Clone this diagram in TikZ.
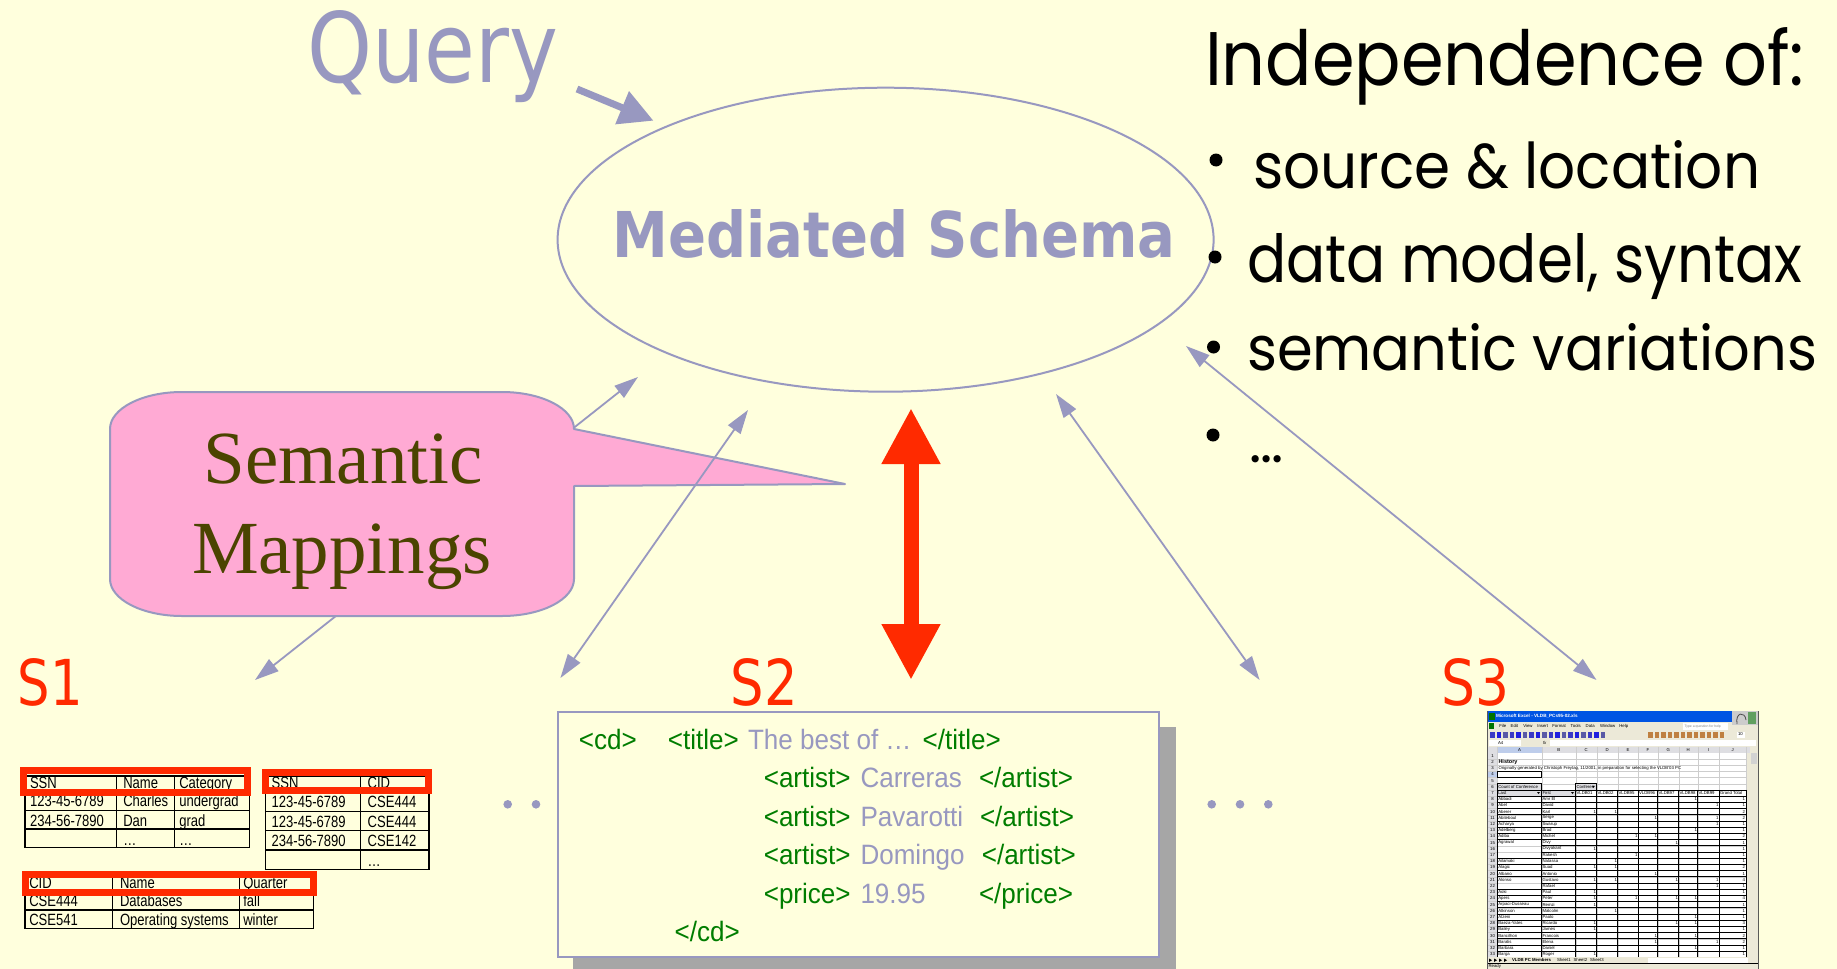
\documentclass[tikz,border=0pt]{standalone}
\usepackage{graphicx}
\usepackage{fontspec}
\usetikzlibrary{arrows.meta,shapes.geometric}

\newfontfamily\tahomaf{DejaVu Sans}
\newfontfamily\arialf{Liberation Sans}
\newfontfamily\timesf{Liberation Serif}
\newfontfamily\comicf{Poppins}

\definecolor{bgyellow}{RGB}{255,255,221}
\definecolor{lav}{RGB}{152,152,192}
\definecolor{calloutpink}{RGB}{255,170,212}
\definecolor{olive}{RGB}{75,68,0}
\definecolor{hotred}{RGB}{255,42,0}
\definecolor{taggreen}{RGB}{0,125,0}
\definecolor{shadowgray}{RGB}{166,166,166}
\definecolor{xpblue}{RGB}{0,84,227}
\definecolor{xpface}{RGB}{236,233,216}
\definecolor{xlhead}{RGB}{222,222,226}
\definecolor{xlgrid}{RGB}{205,205,205}
\definecolor{xlsel}{RGB}{190,205,235}

% box of a given width and height (in pt) around a piece of text
\newcommand\fitto[3]{\resizebox{#1pt}{#2pt}{#3}}
\newcommand\xmlnarrow[1]{\scalebox{0.93}[1]{#1}}
\newcommand\tabnarrow[1]{\scalebox{0.8}[1]{#1}}

\begin{document}
\begin{tikzpicture}[x=1pt,y=-1pt,
  every node/.style={inner sep=0pt,outer sep=0pt},
  link/.style={draw=lav,line width=1.8pt,>={Triangle[length=24pt,width=15pt]},<->},
  bigtext/.style={anchor=base west},
  bulletdot/.style={fill=black},
  tabtext/.style={font=\arialf\fontsize{16.3}{16.3}\selectfont,anchor=base west},
  gridline/.style={draw=black,line width=1.5pt},
  redbox/.style={draw=hotred,line width=7pt},
  xmltag/.style={font=\arialf\fontsize{28}{28}\selectfont,text=taggreen,anchor=base west},
  xmlval/.style={xmltag,text=lav},
  srclabel/.style={anchor=base west,text=hotred},
  dotmark/.style={fill=lav},
  xlcell/.style={font=\arialf\fontsize{4.3}{4.3}\selectfont,anchor=west},
  xlline/.style={draw=black,line width=0.45pt},
  xlthin/.style={draw=xlgrid,line width=0.35pt}
]
\useasboundingbox (0,0) rectangle (1837,969);
\fill[bgyellow] (0,0) rectangle (1837,969);

% ---------- free ends of the connectors ----------
\coordinate (a1) at (638,377);   \coordinate (a2) at (255,680);
\coordinate (b1) at (748,410);   \coordinate (b2) at (560.4,678);
\coordinate (c1) at (1056,394);  \coordinate (c2) at (1259.6,680);
\coordinate (d1) at (1186,346);  \coordinate (d2) at (1596.5,680);
\coordinate (r1) at (911,408);   \coordinate (r2) at (911,680);
\coordinate (q1) at (577,89);    \coordinate (q2) at (653.5,120.7);

% mapping S1 <-> schema runs behind the callout
\draw[link] (a2) -- (a1);

% ---------- mediated schema ----------
\node[ellipse,draw=lav,line width=2pt,minimum width=656pt,minimum height=304pt] (ms) at (885.6,239.7) {};
\node[bigtext,text=lav] (mstext) at (612.5,257.3) {\fitto{563}{48}{\tahomaf\bfseries Mediated Schema}};

% ---------- query ----------
\node[bigtext,text=lav] (query) at (307,82) {\fitto{251}{72}{\tahomaf Query}};
\draw[draw=lav,line width=7pt,-{Triangle[length=34pt,width=34pt]}] (q1) -- (q2);

% ---------- callout ----------
\draw[fill=calloutpink,draw=lav,line width=2pt,line join=round]
  (182,392) -- (502,392) .. controls (541.8,392) and (574,408.6) .. (574,429)
  -- (845,484) -- (574,486) -- (574,579)
  .. controls (574,599.4) and (541.8,616) .. (502,616) -- (182,616)
  .. controls (142.2,616) and (110,599.4) .. (110,579) -- (110,429)
  .. controls (110,408.6) and (142.2,392) .. (182,392) -- cycle;
\node[anchor=base,text=olive,font=\timesf\fontsize{75}{75}\selectfont] (sem) at (343,483) {Semantic};
\node[anchor=base,text=olive,font=\timesf\fontsize{75}{75}\selectfont] (map) at (342,573) {Mappings};

% ---------- other mappings ----------
\draw[link] (b2) -- (b1);
\draw[link] (c1) -- (c2);
\draw[link] (d1) -- (d2);
\draw[draw=hotred,line width=15pt,{Triangle[length=56pt,width=55pt]}-{Triangle[length=56pt,width=55pt]}] (r1) -- (r2);

% ---------- independence list ----------
\node[bigtext] (indep) at (1205,85) {\fitto{599}{58}{\comicf Independence of:}};
\fill[bulletdot] (1216,160) circle[radius=6.5pt];
\node[bigtext] (li1) at (1253,188) {\fitto{507}{48}{\comicf source \& location}};
\fill[bulletdot] (1215,257) circle[radius=6.5pt];
\node[bigtext] (li2) at (1247,282) {\fitto{555}{49}{\comicf data model, syntax}};
\fill[bulletdot] (1213.5,347) circle[radius=6.5pt];
\node[bigtext] (li3) at (1247,370) {\fitto{570}{47}{\comicf semantic variations}};
\fill[bulletdot] (1213,435) circle[radius=6.5pt];
\node[bigtext] (li4) at (1249,462) {\resizebox{34pt}{!}{\comicf …}};

% ---------- source labels ----------
\node[srclabel] (s1) at (17.6,705) {\fitto{65}{47}{\tahomaf S1}};
\node[srclabel] (s2) at (730.6,705) {\fitto{67}{47}{\tahomaf S2}};
\node[srclabel] (s3) at (1441,705) {\fitto{68}{47}{\tahomaf S3}};

\fill[dotmark] (507.7,804.3) circle[radius=4.3pt];
\fill[dotmark] (536,804.3) circle[radius=4.3pt];
\fill[dotmark] (1211.7,804.3) circle[radius=4.3pt];
\fill[dotmark] (1240,804.3) circle[radius=4.3pt];
\fill[dotmark] (1268.3,804.3) circle[radius=4.3pt];

% ---------- S1: relational tables ----------
\draw[gridline] (25,776) rectangle (249.3,847.3);
\foreach \y in {793.5,810.5,829} \draw[gridline] (25,\y) -- (249.3,\y);
\foreach \x in {116.7,174.3} \draw[gridline] (\x,776) -- (\x,847.3);
\foreach \txt/\x/\y [count=\i] in {SSN/30/788, Name/123.3/788, Category/179.3/788,
  123-45-6789/30/806.7, Charles/123.3/806.7, undergrad/179.3/806.7,
  234-56-7890/30/826, Dan/123.3/826, grad/179.3/826, …/123.3/845, …/179.3/845}
  \node[tabtext] (ta\i) at (\x,\y) {\tabnarrow{\txt}};
\draw[redbox] (23.5,770.8) rectangle (247.2,792.2);

\draw[gridline] (265.7,776) rectangle (429,869.3);
\foreach \y in {793,811.7,830.7,850} \draw[gridline] (265.7,\y) -- (429,\y);
\draw[gridline] (360.7,776) -- (360.7,869.3);
\foreach \txt/\x/\y [count=\i] in {SSN/271.7/788, CID/367.7/788,
  123-45-6789/271.7/807.7, CSE444/367.7/807.7, 123-45-6789/271.7/827, CSE444/367.7/827,
  234-56-7890/271.7/846.7, CSE142/367.7/846.7, …/367.7/866}
  \node[tabtext] (tb\i) at (\x,\y) {\tabnarrow{\txt}};
\draw[redbox] (265.8,772.5) rectangle (428.8,790.8);

\draw[gridline] (25,877) rectangle (313.3,928.3);
\foreach \y in {894.3,910} \draw[gridline] (25,\y) -- (313.3,\y);
\foreach \x in {112.7,239.3} \draw[gridline] (\x,877) -- (\x,928.3);
\foreach \txt/\x/\y [count=\i] in {CID/29.3/888.3, Name/120/888.3, Quarter/243.3/888.3,
  CSE444/29.3/906.7, Databases/120/906.7, fall/243.3/906.7,
  CSE541/29.3/925, Operating systems/120/925, winter/243.3/925}
  \node[tabtext] (tc\i) at (\x,\y) {\tabnarrow{\txt}};
\draw[redbox] (25.2,874.2) rectangle (313.2,892.2);

% ---------- S2: XML document ----------
\fill[shadowgray] (572.6,727) rectangle (1175.5,975);
\node[draw=lav,line width=2pt,fill=bgyellow,anchor=north west,minimum width=601.5pt,minimum height=245.3pt] (xmlbox) at (557.5,712) {};
\node[xmltag] (x1) at (578.8,749) {\xmlnarrow{<cd>}};
\node[xmltag] (x2) at (667.8,749) {\xmlnarrow{<title>}};
\node[xmlval] (x3) at (748,749) {\xmlnarrow{The best of …}};
\node[xmltag] (x4) at (922.6,749) {\xmlnarrow{</title>}};
\node[xmltag] (x5) at (763.8,787.5) {\xmlnarrow{<artist>}};
\node[xmlval] (x6) at (860.5,787.5) {\xmlnarrow{Carreras}};
\node[xmltag] (x7) at (979,787.5) {\xmlnarrow{</artist>}};
\node[xmltag] (x8) at (763.8,826) {\xmlnarrow{<artist>}};
\node[xmlval] (x9) at (860.5,826) {\xmlnarrow{Pavarotti}};
\node[xmltag] (x10) at (980,826) {\xmlnarrow{</artist>}};
\node[xmltag] (x11) at (763.8,864.5) {\xmlnarrow{<artist>}};
\node[xmlval] (x12) at (860.5,864.5) {\xmlnarrow{Domingo}};
\node[xmltag] (x13) at (981.8,864.5) {\xmlnarrow{</artist>}};
\node[xmltag] (x14) at (763.8,903) {\xmlnarrow{<price>}};
\node[xmlval] (x15) at (860.5,903) {\xmlnarrow{19.95}};
\node[xmltag] (x16) at (979,903) {\xmlnarrow{</price>}};
\node[xmltag] (x17) at (674.7,941.5) {\xmlnarrow{</cd>}};

% ---------- S3: spreadsheet window ----------
\fill[xpface] (1487,711) rectangle (1758,975);
\fill[xpblue] (1487,711) rectangle (1758,722);
\fill[green!45!black] (1489,712.5) rectangle (1494.5,720);
\node[xlcell,text=white,font=\arialf\bfseries\fontsize{4.6}{4.6}\selectfont] (xltitle) at (1496,716.5) {Microsoft Excel - VLDB\_PCs95-02.xls};
\fill[gray!40] (1732,711) rectangle (1758,725);
\fill[green!25!gray] (1748,712) rectangle (1756,724);
\draw[gray!60!black,line width=0.8pt] (1737,724) .. controls (1735,712) and (1745,711) .. (1746,720);
% menu bar
\fill[green!45!black] (1489,723) rectangle (1494,729);
\foreach \t/\x [count=\i] in {File/1499.3, Edit/1510.7, View/1523.3, Insert/1537.3, Format/1552.3,
  Tools/1570.7, Data/1585.7, Window/1600, Help/1619.3}
  \node[xlcell] (xlmenu\i) at (\x,726) {\t};
\fill[white] (1683,723) rectangle (1728,729.5);
\node[xlcell,text=gray,font=\arialf\fontsize{3.4}{3.4}\selectfont] (xlask) at (1684.5,726.2) {Type a question for help};
% tool bar
\foreach \x [count=\i] in {1490,1496.5,...,1605} {
  \pgfmathsetmacro\tint{mod(\i,3)==0 ? 30 : (mod(\i,3)==1 ? 55 : 75)}
  \fill[blue!\tint!gray] (\x,731.5) rectangle ++(4.5,6);
}
\foreach \x in {1648,1654.5,...,1720} \fill[orange!50!gray] (\x,731.5) rectangle ++(4.5,6);
\fill[white] (1737,731.5) rectangle (1745,737.5);
\node[xlcell] (xlsize) at (1738,734.5) {10};
% formula bar
\fill[white] (1489,740) rectangle (1521,746.2);
\node[xlcell] (xlname) at (1498,743.1) {A4};
\node[xlcell] (xlfx) at (1543,743.1) {\itshape fx};
\fill[white] (1550,740) rectangle (1756,746.2);
% sheet
\fill[white] (1497.3,752.7) rectangle (1746,957.3);
\fill[xlhead] (1487.7,746.7) rectangle (1750,752.7);
\fill[xlhead] (1487.7,752.7) rectangle (1497.3,957.3);
\fill[xlsel] (1497.3,746.7) rectangle (1541.7,752.7);
\fill[xlsel] (1487.7,771.3) rectangle (1497.3,777.5);
\fill[xpface] (1750,746.7) rectangle (1757.7,957.3);
\fill[gray!35] (1751,753) rectangle (1756.5,764);
\foreach \r in {1,...,33} {
  \pgfmathsetmacro\yt{752.7+(\r-1)*6.2}
  \draw[xlthin] (1487.7,\yt+6.2) -- (1746,\yt+6.2);
  \node[font=\arialf\fontsize{4.3}{4.3}\selectfont] (xlrow\r) at (1492.5,\yt+3.1) {\r};
}
\foreach \l/\xa/\xb in {A/1497.3/1541.7, B/1541.7/1575.7, C/1575.7/1596.7, D/1596.7/1617.7,
  E/1617.7/1638.3, F/1638.3/1657.7, G/1657.7/1678.7, H/1678.7/1697.7, I/1697.7/1719.3, J/1719.3/1746} {
  \draw[xlthin] (\xb,746.7) -- (\xb,957.3);
  \node[font=\arialf\fontsize{4.3}{4.3}\selectfont] (xlcol\l) at ({(\xa+\xb)/2},749.7) {\l};
}
\draw[xlthin] (1497.3,746.7) -- (1497.3,957.3);
\node[xlcell,font=\arialf\bfseries\fontsize{5.5}{5.5}\selectfont] (xlhist) at (1498.5,762) {History};
\node[xlcell] (xlnote) at (1498.5,768.2) {Originally generated by Christoph Freytag, 11/2001, in preparation for selecting the VLDB'03 PC};
\draw[black,line width=1pt] (1497.3,771.3) rectangle (1541.7,777.5);
% pivot table
\fill[xlhead] (1497.3,783.7) rectangle (1541.7,789.9);
\fill[xlhead] (1575.7,783.7) rectangle (1596.7,789.9);
\fill[xlhead] (1497.3,789.9) rectangle (1575.7,796.1);
\draw[xlline] (1497.3,783.7) rectangle (1541.7,789.9);
\draw[xlline] (1575.7,783.7) rectangle (1596.7,789.9);
\node[xlcell] (xlcount) at (1498.3,786.8) {Count of Conference};
\node[xlcell] (xlconf) at (1576.5,786.8) {Conferen};
\fill (1592,785.8) -- (1595,785.8) -- (1593.5,787.8) -- cycle;
\node[xlcell] (xllast) at (1498.3,793) {Last};
\node[xlcell] (xlfirst) at (1542.5,793) {First};
\fill (1537,792) -- (1540,792) -- (1538.5,794) -- cycle;
\fill (1571,792) -- (1574,792) -- (1572.5,794) -- cycle;
\foreach \t/\x [count=\i] in {VLDB01/1576.5, VLDB02/1597.5, VLDB95/1618.5, VLDB96/1639,
  VLDB97/1658.5, VLDB98/1679.5, VLDB99/1698.5, Grand Total/1720}
  \node[xlcell] (xlhd\i) at (\x,793) {\t};
\foreach \x in {1497.3,1541.7,1575.7,1596.7,1617.7,1638.3,1657.7,1678.7,1697.7,1719.3,1746}
  \draw[xlline] (\x,789.9) -- (\x,957.3);
\foreach \r in {6,...,33} {
  \pgfmathsetmacro\yb{752.7+\r*6.2}
  \draw[xlline] (1541.7,\yb) -- (1746,\yb);
}
\foreach \r in {6,7,8,9,10,11,12,13,14,17,18,19,20,22,23,24,25,26,27,28,29,30,31,32,33} {
  \pgfmathsetmacro\yb{752.7+\r*6.2}
  \draw[xlline] (1497.3,\yb) -- (1541.7,\yb);
}
\foreach \r/\lname/\fname/\ones/\tot in {
  8/Abbadi/Amr El/{8}/1, 9/Abel/David/{9}/1, 10/Aberer/Karl/{3,4}/2,
  11/Abiteboul/Serge/{6,9}/2, 12/Acharya/Swarup/{9}/1, 13/Adelberg/Brad/{8}/1,
  14/Adiba/Michel/{5,6}/2, 15/Agrawal/Divy/{7}/1, 16//Divyakant/{3}/1,
  17//Rakesh/{5}/1, 18/Ailamaki/Natassa/{4}/1, 19/Alagic/Suad/{3,4}/2,
  20/Albano/Antonio/{6}/1, 21/Alonso/Gustavo/{3,4,7,9}/4, 22//Rafael/{9}/1,
  23/Aoki/Paul/{3}/1, 24/Apers/Peter/{3,5,7,8}/4, 25/Arpaci-Dusseau/Remzi/{3}/1,
  26/Atkinson/Malcolm/{4}/1, 27/Atzeni/Paolo/{8}/1, 28/Baeza-Yates/Ricardo/{3,7,8}/3,
  29/Bailey/James/{3}/1, 30/Bancilhon/Francois/{6,8}/2, 31/Baralis/Elena/{6,9}/2,
  32/Barbara/Daniel/{8}/1, 33/Barga/Roger/{3}/1} {
  \pgfmathsetmacro\yc{752.7+(\r-0.5)*6.2}
  \node[xlcell] (xla\r) at (1498.3,\yc) {\lname};
  \node[xlcell] (xlb\r) at (1542.5,\yc) {\fname};
  \foreach \c in \ones {
    \pgfmathsetmacro\xr{{1596.7,1617.7,1638.3,1657.7,1678.7,1697.7,1719.3}[\c-3]}
    \node[xlcell,anchor=east] (xlv\r-\c) at (\xr-0.8,\yc) {1};
  }
  \node[xlcell,anchor=east] (xlt\r) at (1745,\yc) {\tot};
}
% sheet tabs and status bar
\fill[xpface] (1487.7,957.3) rectangle (1757.7,975);
\foreach \x in {1489,1494,1499,1504} \fill[black] (\x,958.5) -- (\x+3,960.2) -- (\x,962) -- cycle;
\node[xlcell,font=\arialf\bfseries\fontsize{4.3}{4.3}\selectfont] (xltab1) at (1512,960.2) {VLDB PC Members};
\node[xlcell] (xltab2) at (1557,960.2) {Sheet1};
\node[xlcell] (xltab3) at (1573.5,960.2) {Sheet2};
\node[xlcell] (xltab4) at (1590,960.2) {Sheet3};
\fill[white] (1648,958) rectangle (1748,962.5);
\draw[xlline] (1487.7,963) -- (1757.7,963);
\node[xlcell] (xlready) at (1488.5,966) {Ready};
\draw[gray!70!black,line width=0.6pt] (1487,711) -- (1487,975);
\draw[gray!70!black,line width=0.6pt] (1758,711) -- (1758,975);
\end{tikzpicture}
\end{document}
